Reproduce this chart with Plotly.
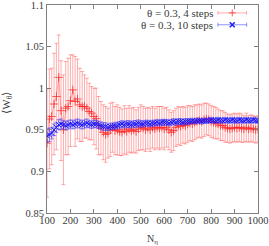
import plotly.graph_objects as go

N = list(range(100, 1001, 10))

red_mean = [0.934, 0.963, 0.966, 0.981, 0.990, 1.013, 0.973, 0.950, 0.976, 0.978,
            0.985, 0.998, 0.984, 0.987, 0.980, 0.978, 0.978, 0.976, 0.972, 0.970,
            0.966,
            0.9635, 0.955, 0.952, 0.947, 0.9445, 0.946, 0.950, 0.953, 0.949, 0.950,
            0.948, 0.947, 0.950, 0.948, 0.951, 0.949, 0.950, 0.948, 0.951, 0.953,
            0.952, 0.950, 0.952, 0.950, 0.953, 0.951, 0.953, 0.952, 0.953, 0.951,
            0.953, 0.950, 0.947, 0.949, 0.953, 0.955, 0.954, 0.956, 0.955, 0.957,
            0.958, 0.957, 0.959, 0.960, 0.961, 0.960, 0.962, 0.963, 0.962, 0.960,
            0.959, 0.958, 0.957, 0.955, 0.955, 0.953, 0.952, 0.951, 0.952, 0.953,
            0.952, 0.953, 0.952, 0.951, 0.953, 0.951, 0.952, 0.951, 0.950, 0.951]
red_err = [0.065, 0.060, 0.058, 0.061, 0.064, 0.051, 0.060, 0.066, 0.056, 0.058,
           0.055, 0.042, 0.054, 0.048, 0.044, 0.042, 0.038, 0.036, 0.034, 0.032,
           0.034,
           0.0365, 0.035, 0.032, 0.033, 0.0335, 0.030, 0.032, 0.030, 0.029, 0.030,
           0.029, 0.028, 0.029, 0.028, 0.028, 0.027, 0.027, 0.026, 0.026, 0.027,
           0.026, 0.026, 0.025, 0.026, 0.025, 0.025, 0.025, 0.026, 0.025, 0.025,
           0.024, 0.024, 0.024, 0.024, 0.023, 0.023, 0.023, 0.022, 0.022, 0.022,
           0.021, 0.021, 0.021, 0.020, 0.020, 0.020, 0.020, 0.019, 0.019, 0.019,
           0.019, 0.019, 0.018, 0.018, 0.018, 0.018, 0.017, 0.017, 0.017, 0.017,
           0.017, 0.017, 0.017, 0.016, 0.017, 0.016, 0.016, 0.016, 0.016, 0.016]

blue_mean = [0.943, 0.944, 0.946, 0.950, 0.953, 0.956, 0.957, 0.956, 0.955, 0.956, 0.957,
             0.956, 0.957, 0.958, 0.957, 0.956, 0.957, 0.958, 0.957, 0.956, 0.957,
             0.957, 0.956, 0.955, 0.954, 0.954, 0.953, 0.954, 0.954, 0.955, 0.955,
             0.956, 0.957, 0.956, 0.957, 0.957, 0.956, 0.957, 0.957, 0.958, 0.957,
             0.957, 0.958, 0.958, 0.957, 0.958, 0.958, 0.959, 0.958, 0.959, 0.959,
             0.959, 0.958, 0.959, 0.960, 0.959, 0.960, 0.960, 0.959, 0.960, 0.960,
             0.960, 0.961, 0.960, 0.961, 0.961, 0.960, 0.961, 0.961, 0.961, 0.962,
             0.961, 0.961, 0.962, 0.961, 0.961, 0.962, 0.961, 0.961, 0.962, 0.961,
             0.961, 0.962, 0.961, 0.961, 0.962, 0.961, 0.961, 0.962, 0.961, 0.961]
blue_err = [0.008, 0.008, 0.007, 0.007, 0.006, 0.006, 0.006, 0.005, 0.005, 0.005, 0.005,
            0.005, 0.005, 0.005, 0.005, 0.005, 0.005, 0.005, 0.0045, 0.0045, 0.0045,
            0.0045, 0.0045, 0.0045, 0.0045, 0.0045, 0.004, 0.004, 0.004, 0.004, 0.004,
            0.004, 0.004, 0.004, 0.004, 0.004, 0.004, 0.004, 0.004, 0.004, 0.004,
            0.0035, 0.0035, 0.0035, 0.0035, 0.0035, 0.0035, 0.0035, 0.0035, 0.0035, 0.0035,
            0.0035, 0.0035, 0.0035, 0.0035, 0.0035, 0.0035, 0.0035, 0.0035, 0.0035, 0.0035,
            0.003, 0.003, 0.003, 0.003, 0.003, 0.003, 0.003, 0.003, 0.003, 0.003,
            0.003, 0.003, 0.003, 0.003, 0.003, 0.003, 0.003, 0.003, 0.003, 0.003,
            0.003, 0.003, 0.003, 0.003, 0.003, 0.003, 0.003, 0.003, 0.003, 0.003]

labels = ["\u03b8 = 0.3, 4 steps", "\u03b8 = 0.3, 10 steps"]
x_ticks = list(range(100, 1001, 100))
y_ticks = [0.85, 0.9, 0.95, 1.0, 1.05, 1.1]
y_ticktext = ["0.85", "0.9", "0.95", "1", "1.05", "1.1"]

RED = "rgba(255,40,40,0.38)"
RED_M = "rgba(255,30,30,0.7)"
BLUE = "rgba(40,40,255,0.5)"
BLUE_M = "rgba(20,20,255,0.95)"
FONT = "Liberation Serif, Times New Roman, serif"
TXT = "#3a3a3a"

fig = go.Figure()
fig.add_trace(go.Scatter(
    x=N, y=red_mean, mode="lines+markers",
    line=dict(color=RED, width=1),
    marker=dict(symbol="cross-thin", size=6, line=dict(color=RED_M, width=1)),
    error_y=dict(type="data", array=red_err, color=RED, thickness=1, width=2),
    showlegend=False))
fig.add_trace(go.Scatter(
    x=N, y=blue_mean, mode="lines+markers",
    line=dict(color=BLUE, width=1),
    marker=dict(symbol="x-thin", size=5, line=dict(color=BLUE_M, width=1)),
    error_y=dict(type="data", array=blue_err, color=BLUE, thickness=1, width=2),
    showlegend=False))

# legend samples (overlay axes in fractional coordinates)
leg_y = [0.962, 0.905]
fig.add_trace(go.Scatter(
    x=[0.878], y=[leg_y[0]], xaxis="x2", yaxis="y2", mode="markers",
    marker=dict(symbol="cross-thin", size=5, line=dict(color=RED_M, width=1)),
    error_x=dict(type="constant", value=0.068, color=RED, thickness=1, width=2),
    showlegend=False, hoverinfo="skip"))
fig.add_trace(go.Scatter(
    x=[0.878], y=[leg_y[1]], xaxis="x2", yaxis="y2", mode="markers",
    marker=dict(symbol="x-thin", size=5, line=dict(color=BLUE_M, width=1.5)),
    error_x=dict(type="constant", value=0.068, color=BLUE, thickness=1, width=2),
    showlegend=False, hoverinfo="skip"))
for lab, yy in zip(labels, leg_y):
    fig.add_annotation(x=0.795, y=yy, xref="x2", yref="y2", text=lab,
                       showarrow=False, xanchor="right", yanchor="middle",
                       font=dict(family=FONT, size=11, color=TXT))

# axis titles
fig.add_annotation(x=0.5, y=-0.085, xref="paper", yref="paper", text="N<sub>\u03b7</sub>",
                   showarrow=False, xanchor="center", yanchor="top",
                   font=dict(family=FONT, size=10, color=TXT))
fig.add_annotation(x=-0.19, y=0.53, xref="paper", yref="paper",
                   text="\u27e8W<sub>\u03b8</sub>\u27e9", textangle=-90,
                   showarrow=False, xanchor="center", yanchor="middle",
                   font=dict(family=FONT, size=11, color=TXT))

axis_common = dict(showgrid=False, zeroline=False, showline=True, linecolor="#808080",
                   linewidth=1, mirror="allticks", ticks="inside", ticklen=4,
                   tickcolor="#808080", ticklabeloverflow="allow",
                   tickfont=dict(family=FONT, size=10.5, color=TXT))

fig.update_layout(
    width=269, height=246,
    margin=dict(l=47, r=11, t=5, b=33, autoexpand=False),
    paper_bgcolor="white", plot_bgcolor="white",
    xaxis=dict(range=[100, 1000], tickvals=x_ticks, automargin=False,
               ticklabelstandoff=-3, **axis_common),
    yaxis=dict(range=[0.85, 1.1], tickvals=y_ticks, ticktext=y_ticktext,
               automargin=False, **axis_common),
    xaxis2=dict(range=[0, 1], overlaying="x", visible=False),
    yaxis2=dict(range=[0, 1], overlaying="y", visible=False),
)

fig.write_html("out.html", config={"displayModeBar": False},
               post_script="document.body.style.margin='0';document.body.style.overflow='hidden';")
